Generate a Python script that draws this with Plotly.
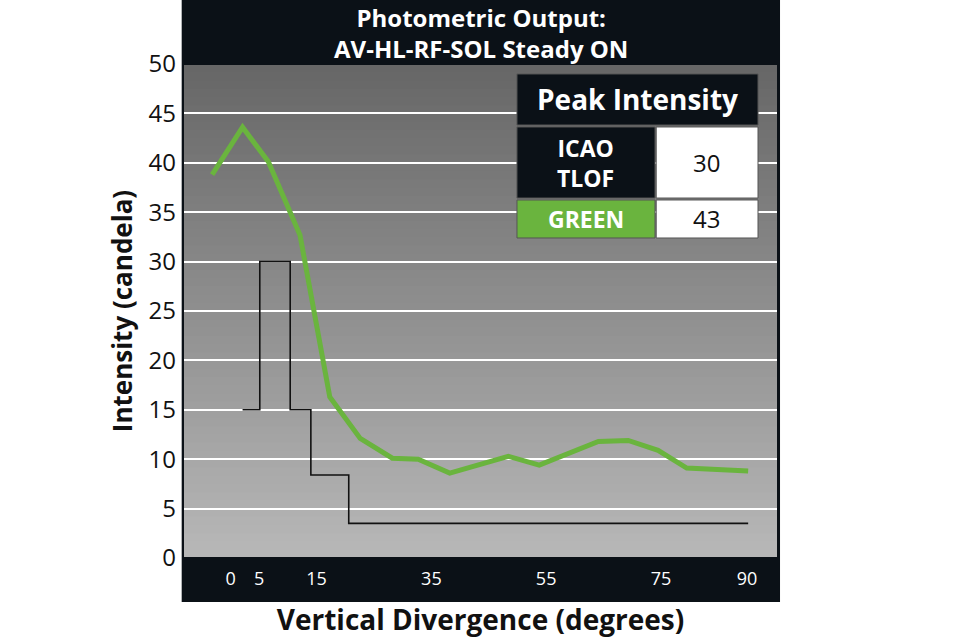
import plotly.graph_objects as go

# ---- data ----
green_x = [-3.2, 2.1, 6.6, 12.1, 17.3, 22.6, 28.2, 32.7, 38.2, 48.4, 53.8, 64.1, 69.3, 74.5, 79.5, 84.7, 90.2]
green_y = [38.8, 43.6, 40.1, 32.7, 16.3, 12.1, 10.1, 10.0, 8.6, 10.3, 9.4, 11.8, 11.9, 10.9, 9.1, 8.9, 8.8]
icao_x = [2.1, 5.1, 10.4, 14.0, 20.6, 90.2]
icao_y = [15, 30, 15, 8.4, 3.5, 3.5]
x_ticks = [0, 5, 15, 35, 55, 75, 90]
y_ticks = [0, 5, 10, 15, 20, 25, 30, 35, 40, 45, 50]
table_rows = [("ICAO<br>TLOF", 30), ("GREEN", 43)]
title_lines = ["Photometric Output:", "AV-HL-RF-SOL Steady ON"]

GREEN = "#6ab43e"
DARK = "#0b1117"
FONT = "Open Sans"

fig = go.Figure()
fig.add_trace(go.Scatter(x=icao_x, y=icao_y, mode="lines", line=dict(color="#111111", width=1.6, shape="hv"),
                         hoverinfo="skip", showlegend=False))
fig.add_trace(go.Scatter(x=green_x, y=green_y, mode="lines", line=dict(color=GREEN, width=5),
                         hoverinfo="skip", showlegend=False))

shapes = []
# dark frame
shapes.append(dict(type="rect", xref="paper", yref="paper", x0=-0.0022, x1=1.0034, y0=-0.089, y1=1.1296,
                   fillcolor=DARK, line=dict(width=0), layer="below"))
# gradient background
N = 60
top = (0x66, 0x66, 0x66)
bot = (0xb8, 0xb8, 0xb8)
for i in range(N):
    t = (i + 0.5) / N
    c = tuple(int(round(bot[k] + (top[k] - bot[k]) * t)) for k in range(3))
    shapes.append(dict(type="rect", xref="paper", yref="paper", x0=0, x1=1, y0=i / N, y1=(i + 1) / N + 0.002,
                       fillcolor="rgb(%d,%d,%d)" % c, line=dict(width=0), layer="below"))
# plot border
shapes.append(dict(type="rect", xref="paper", yref="paper", x0=0, x1=1, y0=0, y1=1,
                   fillcolor="rgba(0,0,0,0)", line=dict(color=DARK, width=2), layer="above"))

# table
tx0, tsplit, tx1 = 0.5613, 0.7933, 0.9664
shapes.append(dict(type="rect", xref="paper", yref="paper", x0=tx0, x1=tx1, y0=0.8765, y1=0.9798,
                   fillcolor=DARK, line=dict(color="#555555", width=1), layer="above"))
rows_y = [(0.7287, 0.8725), (0.6478, 0.7247)]
label_fill = [DARK, GREEN]
annotations = []
for (y0, y1), fillc, (lab, val) in zip(rows_y, label_fill, table_rows):
    shapes.append(dict(type="rect", xref="paper", yref="paper", x0=tx0, x1=tsplit, y0=y0, y1=y1,
                       fillcolor=fillc, line=dict(color="#555555", width=1), layer="above"))
    shapes.append(dict(type="rect", xref="paper", yref="paper", x0=tsplit + 0.002, x1=tx1, y0=y0, y1=y1,
                       fillcolor="white", line=dict(color="#555555", width=1), layer="above"))
    annotations.append(dict(xref="paper", yref="paper", x=(tx0 + tsplit) / 2, y=(y0 + y1) / 2, text="<b>%s</b>" % lab,
                            showarrow=False, font=dict(family=FONT, size=23, color="white"), xanchor="center",
                            yanchor="middle"))
    annotations.append(dict(xref="paper", yref="paper", x=(tsplit + tx1) / 2, y=(y0 + y1) / 2, text=str(val),
                            showarrow=False, font=dict(family=FONT, size=24, color="#111111"), xanchor="center",
                            yanchor="middle"))
annotations.append(dict(xref="paper", yref="paper", x=(tx0 + tx1) / 2, y=(0.8765 + 0.9798) / 2,
                        text="<b>Peak Intensity</b>", showarrow=False,
                        font=dict(family=FONT, size=28, color="white"), xanchor="center", yanchor="middle"))
# title
annotations.append(dict(xref="paper", yref="paper", x=0.5, y=1.0628, yanchor="middle", xanchor="center",
                        text="<br>".join("<b>%s</b>" % t for t in title_lines), showarrow=False, borderpad=0,
                        font=dict(family=FONT, size=24, color="white")))

fig.update_layout(
    width=960, height=638,
    margin=dict(l=183, r=182, t=64, b=80),
    paper_bgcolor="white", plot_bgcolor="#8f8f8f",
    shapes=shapes, annotations=annotations,
    xaxis=dict(range=[-8.28, 95.4], tickvals=x_ticks, ticktext=[str(v) for v in x_ticks],
               showgrid=False, zeroline=False, showline=False, ticks="", automargin=False,
               tickfont=dict(family=FONT, size=18, color="white"), ticklabelstandoff=8,
               title=dict(text="<b>Vertical Divergence (degrees)</b>", font=dict(family=FONT, size=28, color="#111111"),
                          standoff=22)),
    yaxis=dict(range=[0, 50], tickvals=y_ticks, showgrid=True, gridcolor="white", gridwidth=2,
               zeroline=False, showline=False, ticks="", automargin=False,
               tickfont=dict(family=FONT, size=24, color="#111111"), ticklabelstandoff=6,
               title=dict(text="<b>Intensity (candela)</b>", font=dict(family=FONT, size=26, color="#111111"),
                          standoff=8)),
)

fig.write_html("out.html")
